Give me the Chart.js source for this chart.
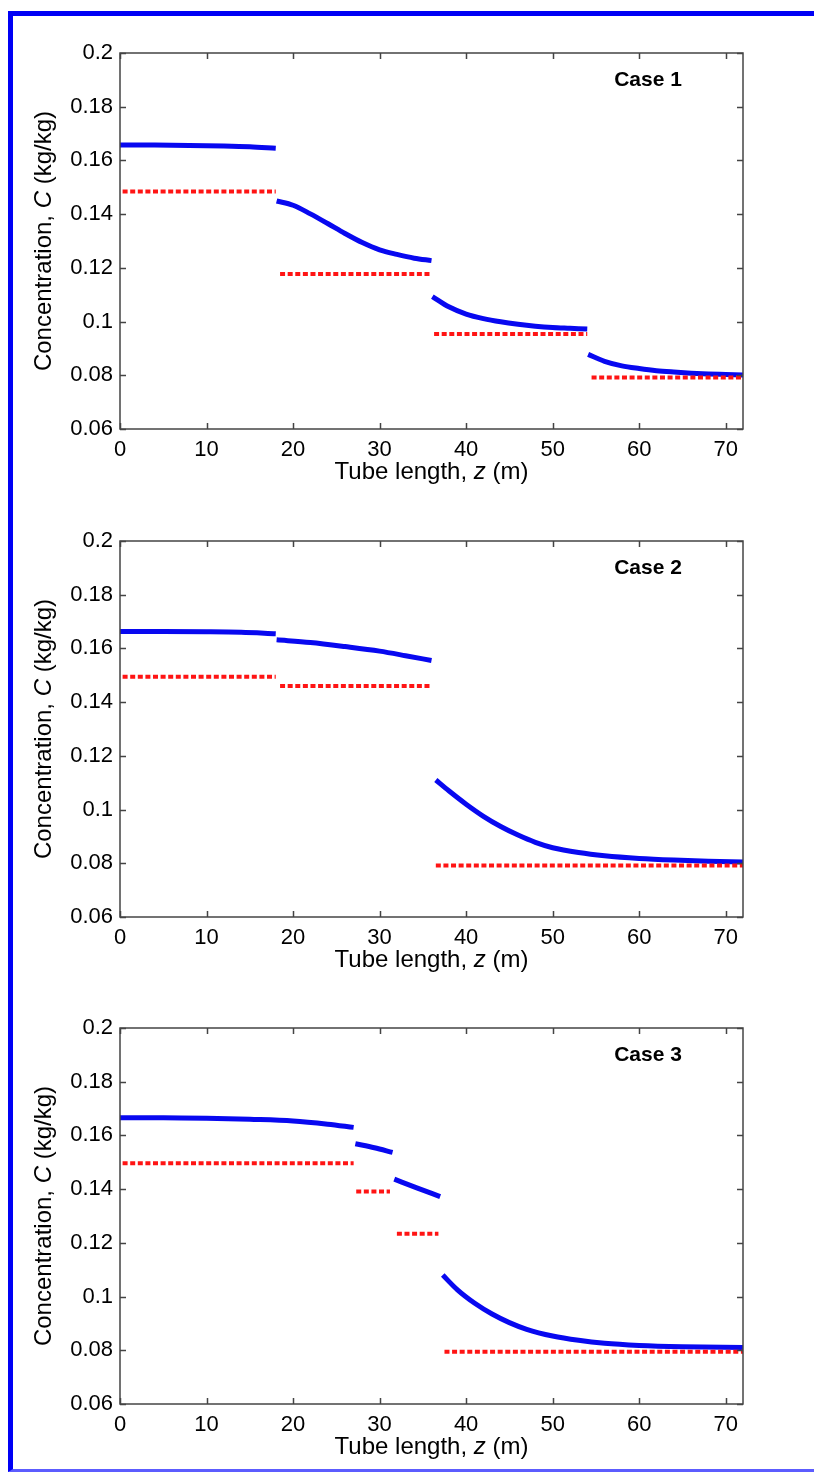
<!DOCTYPE html>
<html>
<head>
<meta charset="utf-8">
<script src="https://cdn.jsdelivr.net/npm/chart.js@4.4.1/dist/chart.umd.min.js"></script>
<style>
  html, body { margin: 0; padding: 0; background: #fff; }
  body { width: 814px; height: 1473px; position: relative; overflow: hidden; }
  .frame {
    position: absolute; left: 8px; top: 11px; width: 830px; height: 1453px;
    border-left: 5px solid #0000f5; border-top: 5px solid #0000f5;
    border-bottom: 3px solid #5c5cff;
  }
  canvas { position: absolute; left: 0; }
</style>
</head>
<body>
<div class="frame"></div>
<canvas id="case1" width="814" height="491" style="top:8px"></canvas>
<canvas id="case2" width="814" height="491" style="top:496px"></canvas>
<canvas id="case3" width="814" height="491" style="top:983px"></canvas>
<script>
// 軸
const xTicks = [0, 10, 20, 30, 40, 50, 60, 70];
const xMax = 72;
const yTicks = [0.06, 0.08, 0.1, 0.12, 0.14, 0.16, 0.18, 0.2];

// Case 1 シミュレーション（青線、null で区切り）
const case1BlueZ = [0, 4, 8, 12, 15, 18, 18,
  18.1, 20, 22, 24, 26, 28, 30, 32, 34, 36, 36,
  36.1, 38, 40, 42, 44, 46, 48, 50, 52, 54, 54,
  54.1, 56, 58, 60, 62, 64, 66, 68, 70, 72];
const case1BlueC = [0.1657, 0.1657, 0.1656, 0.1654, 0.1651, 0.1645, null,
  0.1449, 0.1433, 0.1401, 0.1365, 0.1328, 0.1294, 0.1267, 0.1250, 0.1236, 0.1227, null,
  0.1093, 0.1055, 0.1028, 0.1011, 0.0999, 0.0990, 0.0983, 0.0978, 0.0975, 0.0972, null,
  0.0878, 0.0852, 0.0835, 0.0825, 0.0817, 0.0812, 0.0808, 0.0805, 0.0803, 0.0801];
// Case 1 平衡濃度（赤点線）
const case1RedFrom = [0.3, 18.5, 36.3, 54.5];
const case1RedTo = [18, 36, 54, 72];
const case1RedC = [0.1484, 0.1177, 0.0954, 0.0792];

// Case 2
const case2BlueZ = [0, 5, 10, 14, 18, 18,
  18.1, 22, 26, 30, 33, 36, 36,
  36.5, 38, 40, 42, 44, 46, 48, 50, 53, 56, 60, 64, 68, 72];
const case2BlueC = [0.1663, 0.1663, 0.1662, 0.1660, 0.1655, null,
  0.1632, 0.1622, 0.1607, 0.1590, 0.1573, 0.1555, null,
  0.1110, 0.1070, 0.1020, 0.0975, 0.0937, 0.0905, 0.0878, 0.0858, 0.0840, 0.0828, 0.0818, 0.0812, 0.0808, 0.0805];
const case2RedFrom = [0.3, 18.5, 36.5];
const case2RedTo = [18, 36, 72];
const case2RedC = [0.1495, 0.1460, 0.0792];

// Case 3
const case3BlueZ = [0, 5, 10, 15, 20, 24, 27, 27,
  27.2, 29.4, 31.5, 31.5,
  31.7, 34.3, 37, 37,
  37.3, 39, 41, 43, 45, 47, 50, 53, 56, 60, 65, 72];
const case3BlueC = [0.1666, 0.1666, 0.1664, 0.1660, 0.1654, 0.1642, 0.1630, null,
  0.1569, 0.1554, 0.1537, null,
  0.1437, 0.1405, 0.1372, null,
  0.1080, 0.1025, 0.0975, 0.0935, 0.0903, 0.0878, 0.0853, 0.0837, 0.0826, 0.0818, 0.0813, 0.0810];
const case3RedFrom = [0.3, 27.3, 32, 37.5];
const case3RedTo = [27, 31.2, 36.8, 72];
const case3RedC = [0.1496, 0.1391, 0.1234, 0.0795];

const FONT = '"Liberation Sans", Arial, sans-serif';
const TEXT_COLOR = '#000';

function bluePoints(zs, cs) {
  return zs.map((z, i) => ({ x: z, y: cs[i] }));
}

function redPoints(from, to, cs) {
  const pts = [];
  from.forEach((f, i) => {
    pts.push({ x: f, y: cs[i] });
    pts.push({ x: to[i], y: cs[i] });
    if (i < from.length - 1) pts.push({ x: to[i], y: null });
  });
  return pts;
}

// 文字列を部分ごとのフォントで描く
function drawParts(ctx, parts, x, y) {
  let total = 0;
  parts.forEach(p => { ctx.font = p.font; total += ctx.measureText(p.text).width; });
  let cx = x - total / 2;
  ctx.textAlign = 'left';
  ctx.textBaseline = 'middle';
  parts.forEach(p => {
    ctx.font = p.font;
    ctx.fillText(p.text, cx, y);
    cx += ctx.measureText(p.text).width;
  });
}

// 枠と内向きの目盛り
const framePlugin = {
  id: 'frame',
  afterDatasetsDraw(chart) {
    const { ctx, chartArea: a, scales } = chart;
    const len = 6;
    ctx.save();
    ctx.strokeStyle = '#444';
    ctx.lineWidth = 1.5;
    ctx.strokeRect(a.left, a.top, a.right - a.left, a.bottom - a.top);
    ctx.beginPath();
    scales.x.ticks.forEach(t => {
      const px = Math.round(scales.x.getPixelForValue(t.value)) + 0.5;
      ctx.moveTo(px, a.bottom); ctx.lineTo(px, a.bottom - len);
      ctx.moveTo(px, a.top); ctx.lineTo(px, a.top + len);
    });
    scales.y.ticks.forEach(t => {
      const py = Math.round(scales.y.getPixelForValue(t.value)) + 0.5;
      ctx.moveTo(a.left, py); ctx.lineTo(a.left + len, py);
      ctx.moveTo(a.right, py); ctx.lineTo(a.right - len, py);
    });
    ctx.stroke();
    ctx.restore();
  }
};

// 軸タイトルとケース名
const labelPlugin = {
  id: 'labels',
  afterDraw(chart) {
    const { ctx, chartArea: a } = chart;
    const name = chart.options.plugins.labels.caseName;
    ctx.save();
    ctx.fillStyle = TEXT_COLOR;
    drawParts(ctx, [
      { text: 'Tube length, ', font: `24px ${FONT}` },
      { text: 'z', font: `italic 24px ${FONT}` },
      { text: ' (m)', font: `24px ${FONT}` }
    ], (a.left + a.right) / 2, a.bottom + 43);

    ctx.save();
    ctx.translate(44, (a.top + a.bottom) / 2);
    ctx.rotate(-Math.PI / 2);
    drawParts(ctx, [
      { text: 'Concentration, ', font: `24px ${FONT}` },
      { text: 'C', font: `italic 24px ${FONT}` },
      { text: ' (kg/kg)', font: `24px ${FONT}` }
    ], 0, 0);
    ctx.restore();

    drawParts(ctx, [{ text: name, font: `bold 21px ${FONT}` }], 648, a.top + 27);
    ctx.restore();
  }
};

function makeChart(id, caseName, blueZ, blueC, redFrom, redTo, redC) {
  const el = document.getElementById(id);
  return new Chart(el, {
    type: 'line',
    data: {
      datasets: [{
        label: 'red',
        data: redPoints(redFrom, redTo, redC),
        borderColor: '#ff1414',
        borderWidth: 4,
        borderDash: [5, 2.6],
        borderCapStyle: 'butt',
        pointRadius: 0,
        spanGaps: false,
        tension: 0
      }, {
        label: 'blue',
        data: bluePoints(blueZ, blueC),
        borderColor: '#0808f0',
        borderWidth: 5,
        pointRadius: 0,
        spanGaps: false,
        cubicInterpolationMode: 'monotone'
      }]
    },
    options: {
      responsive: false,
      animation: false,
      devicePixelRatio: 1,
      layout: { padding: { top: 45, right: 71, bottom: 0, left: 0 } },
      plugins: {
        legend: { display: false },
        tooltip: { enabled: false },
        labels: { caseName: caseName }
      },
      scales: {
        x: {
          type: 'linear',
          min: 0,
          max: xMax,
          grid: { display: false, drawTicks: false },
          border: { display: false },
          afterBuildTicks: (scale) => { scale.ticks = xTicks.map(v => ({ value: v })); },
          afterFit: (scale) => { scale.height = 70; },
          ticks: {
            color: TEXT_COLOR,
            font: { family: FONT, size: 22 },
            padding: 8,
            maxRotation: 0,
            callback: (v) => String(v)
          }
        },
        y: {
          type: 'linear',
          min: yTicks[0],
          max: yTicks[yTicks.length - 1],
          grid: { display: false, drawTicks: false },
          border: { display: false },
          afterBuildTicks: (scale) => { scale.ticks = yTicks.map(v => ({ value: v })); },
          afterFit: (scale) => { scale.width = 120; },
          ticks: {
            color: TEXT_COLOR,
            font: { family: FONT, size: 22 },
            padding: 7,
            callback: (v) => String(Number(v.toFixed(2)))
          }
        }
      }
    },
    plugins: [framePlugin, labelPlugin]
  });
}

makeChart('case1', 'Case 1', case1BlueZ, case1BlueC, case1RedFrom, case1RedTo, case1RedC);
makeChart('case2', 'Case 2', case2BlueZ, case2BlueC, case2RedFrom, case2RedTo, case2RedC);
makeChart('case3', 'Case 3', case3BlueZ, case3BlueC, case3RedFrom, case3RedTo, case3RedC);
</script>
</body>
</html>
